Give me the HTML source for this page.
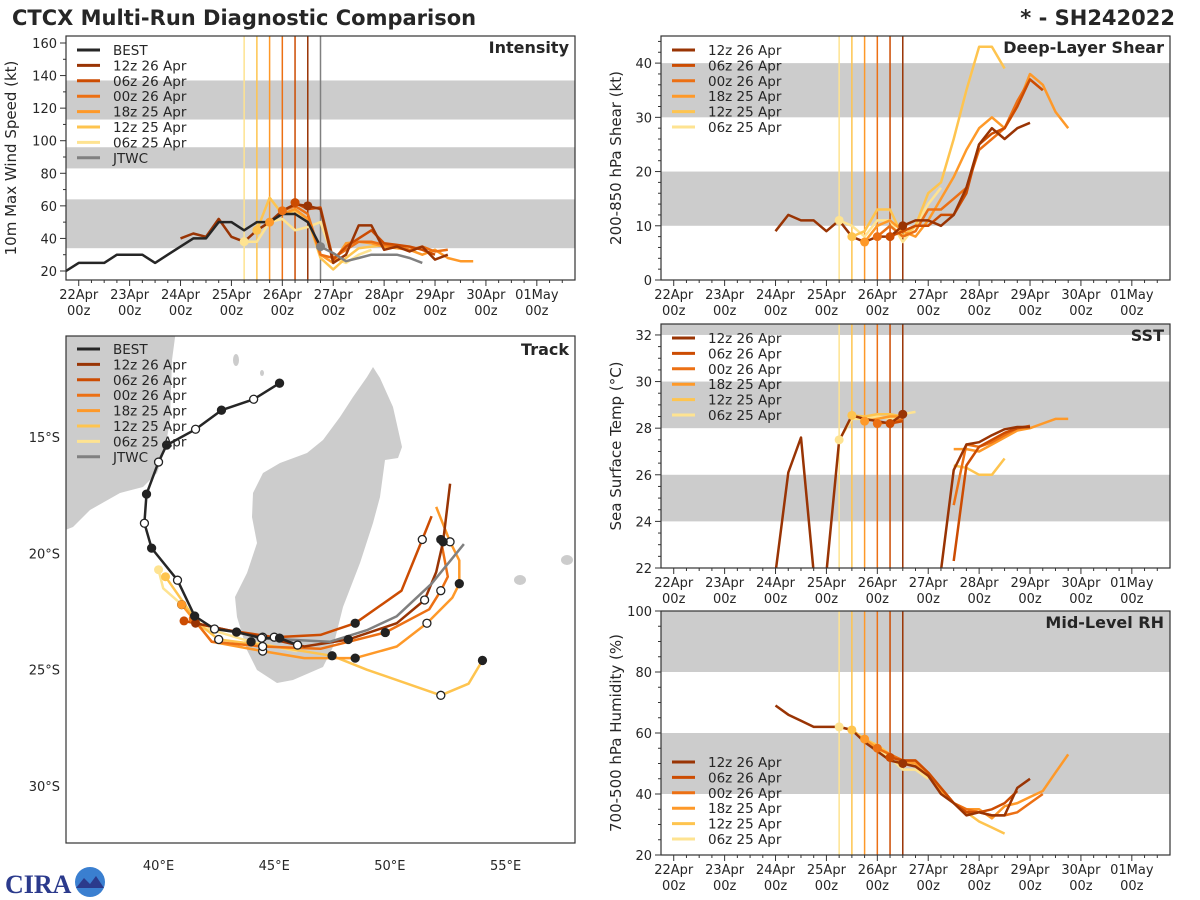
<!DOCTYPE html>
<html><head><meta charset="utf-8">
<style>
html,body{margin:0;padding:0;background:#fff;}
svg{display:block;font-family:"DejaVu Sans","Liberation Sans",sans-serif;}
</style></head>
<body>
<svg id="root" width="1200" height="900" viewBox="0 0 1200 900" xmlns="http://www.w3.org/2000/svg">
<text x="12" y="25" font-size="21" font-weight="bold" fill="#262626">CTCX Multi-Run Diagnostic Comparison</text>
<text x="1175" y="25" font-size="21" font-weight="bold" fill="#262626" text-anchor="end">* - SH242022</text>
<g>
<text x="5" y="893" font-size="26" font-weight="bold" fill="#2b3a8c" font-family="Liberation Serif, serif">CIRA</text>
<circle cx="90" cy="882" r="15" fill="#3a7fd0"/>
<path d="M76,888 L84,878 L90,884 L96,876 L104,888 Z" fill="#2b3a8c"/>
</g>
</svg>
<script>
// ---------- data ----------
var runNames = ["06z 25 Apr","12z 25 Apr","18z 25 Apr","00z 26 Apr","06z 26 Apr","12z 26 Apr"];
var runColors = ["#fee391","#fec44f","#fe9929","#ec7014","#cc4c02","#993404"];
var runInitDays = [3.25,3.5,3.75,4.0,4.25,4.5];
var dayLabels = ["22Apr","23Apr","24Apr","25Apr","26Apr","27Apr","28Apr","29Apr","30Apr","01May"];

// intensity (kt), 6-hourly from start day
var intBestStart = -0.25;
var intBest = [20,25,25,25,30,30,30,25,30,35,40,40,50,50,45,50,50,55,55,50,35];
var intJtwcStart = 4.75;
var intJtwc = [35,31,26,28,30,30,30,28,25];
var intStarts = [3.25,3.5,3.75,4.0,4.25,2.0];
var int06z25 = [38,38,50,52,45,47,50,28,25,30,33];
var int12z25 = [45,65,55,57,52,28,21,28,34,35,36,35,35];
var int18z25 = [50,55,58,52,30,25,37,38,37,35,34,33,30,33,28,26,26];
var int00z26 = [57,60,55,30,28,33,38,38,36,35,33,35,32,33];
var int06z26 = [62,58,59,27,35,40,45,37,36,35,33,30];
var int12z26 = [40,43,41,52,41,38,45,50,57,61,60,58,25,30,48,48,33,35,32,35,27,30];

// shear (kt)
var shrStarts = [3.25,3.5,3.75,4.0,4.25,2.0];
var shr06z25 = [11,10,8,11,11,7,10,14,17];
var shr12z25 = [8,9,13,13,8,10,16,18,26,35,43,43,39];
var shr18z25 = [7,10,11,9,8,11,15,19,24,28,30,28,32,38,36,31,28];
var shr00z26 = [8,10,8,9,13,13,15,17,24,26,28,33,37,35];
var shr06z26 = [8,9,10,10,12,12,16,25,27,28,32,37,35];
var shr12z26 = [9,12,11,11,9,11,8,7,8,8,10,11,11,10,12,17,25,28,26,28,29];

// SST (C), null = missing
var sstStarts = [3.25,3.5,3.75,4.0,4.25,2.0];
var sst06z25 = [27.5,28.4,28.4,28.5,28.4,28.6,28.7];
var sst12z25 = [28.55,28.5,28.6,28.6,28.5,null,null,null,26.4,26.3,26.0,26.0,26.7];
var sst18z25 = [28.3,28.4,28.5,28.5,null,null,null,27.1,27.1,27.0,27.3,27.6,27.9,28.0,28.2,28.4,28.4];
var sst00z26 = [28.2,28.25,28.4,null,null,null,24.7,27.3,27.2,27.4,27.7,28.0,28.05];
var sst06z26 = [28.2,28.3,null,null,null,22.3,26.4,27.2,27.5,27.8,28.0,28.1];
var sst12z26 = [21.8,26.1,27.6,21.8,21.8,27.45,28.55,28.4,28.3,28.2,28.6,null,null,21.9,26.2,27.3,27.4,27.7,27.95,28.05,28.05];

// mid-level RH (%)
var rhStarts = [3.25,3.5,3.75,4.0,4.25,2.0];
var rh06z25 = [62,61,58,55,52,48,48,45];
var rh12z25 = [61,58,56,53,50,50,46,41,37,34,31,29,27];
var rh18z25 = [58,55,53,51,50,46,41,37,35,35,32,36,37,39,41,47,53];
var rh00z26 = [55,53,51,51,47,42,37,35,34,33,33,34,37,40];
var rh06z26 = [52,51,51,47,42,37,34,34,35,37,41];
var rh12z26 = [69,66,64,62,62,62,61,57,54,51,50,49,46,40,37,33,34,33,33,42,45];

// tracks [lon, lat]
var trkBest = [[45.23,-12.68],[44.11,-13.37],[42.72,-13.84],[41.6,-14.66],[40.35,-15.34],[40.0,-16.07],[39.48,-17.45],[39.39,-18.7],[39.7,-19.77],[40.82,-21.15],[41.56,-22.69],[42.42,-23.25],[43.37,-23.38],[44.45,-23.64],[45.23,-23.64],[46.01,-23.94]];
var trkJtwc = [[44.2,-23.64],[45.5,-23.7],[47.4,-23.8],[49.0,-23.3],[50.3,-22.7],[51.8,-21.3],[53.2,-19.6]];
var trk06z25 = [[40.0,-20.7],[40.2,-21.5],[41.0,-22.2],[42.0,-23.2],[44.0,-23.8],[46.0,-24.2]];
var trk12z25 = [[40.3,-21.0],[41.7,-23.0],[42.6,-23.7],[45.0,-24.0],[47.5,-24.4],[49.0,-25.0],[52.2,-26.1],[53.4,-25.6],[54.0,-24.6]];
var trk18z25 = [[41.0,-22.2],[42.3,-23.8],[44.5,-24.2],[46.3,-24.5],[48.5,-24.5],[50.3,-24.0],[51.6,-23.0],[52.7,-21.9],[53.0,-21.3],[53.0,-20.3],[52.6,-19.5],[52.0,-18.0]];
var trk00z26 = [[41.5,-22.8],[42.3,-23.8],[44.5,-24.0],[47.0,-24.1],[49.8,-23.4],[51.7,-22.4],[52.2,-21.6],[52.5,-21.0],[52.2,-19.4]];
var trk06z26 = [[41.1,-22.9],[43.0,-23.3],[45.0,-23.6],[47.0,-23.5],[48.5,-23.0],[50.5,-21.6],[51.4,-19.4],[51.8,-18.4]];
var trk12z26 = [[41.6,-23.0],[43.0,-23.3],[44.5,-23.6],[46.3,-24.0],[48.2,-23.7],[50.3,-23.0],[51.5,-22.0],[52.0,-20.8],[52.3,-19.5],[52.6,-17.0]];

// ---------- helpers ----------
var NS = "http://www.w3.org/2000/svg";
var root = document.getElementById("root");
function mk(tag, attrs, parent){
  var e = document.createElementNS(NS, tag);
  for (var k in attrs) e.setAttribute(k, attrs[k]);
  (parent||root).appendChild(e);
  return e;
}
function txt(s, attrs, parent){ var t = mk("text", attrs, parent); t.textContent = s; return t; }

function timePanel(cfg){
  var g = mk("g", {});
  
  
  var X = function(d){ return cfg.x0 + (d - (-0.25)) / 10 * (cfg.x1 - cfg.x0); };
  var Y = function(v){ return cfg.y1 - (v - cfg.ymin) / (cfg.ymax - cfg.ymin) * (cfg.y1 - cfg.y0); };
  var clipId = "clip-" + cfg.name;
  var cp = mk("clipPath", {id: clipId}, g);
  mk("rect", {x: cfg.x0, y: cfg.y0, width: cfg.x1 - cfg.x0, height: cfg.y1 - cfg.y0}, cp);
  var plot = mk("g", {"clip-path": "url(#" + clipId + ")"}, g);
  cfg.bands.forEach(function(b){
    var r = mk("rect", {x: cfg.x0, y: Y(b[1]), width: cfg.x1 - cfg.x0, height: Y(b[0]) - Y(b[1]), fill: "#cccccc"}, plot);
    
    
  });
  runInitDays.forEach(function(d, i){
    var l = mk("line", {x1: X(d), x2: X(d), y1: cfg.y0, y2: cfg.y1, stroke: runColors[i], "stroke-width": 1.5}, plot);
    
    
  });
  if (cfg.jtwcLine){
    var jl = mk("line", {x1: X(4.75), x2: X(4.75), y1: cfg.y0, y2: cfg.y1, stroke: "#808080", "stroke-width": 1.5}, plot);
    
    
  }
  function series(start, vals, color, nm, w){
    var d = "", pen = false;
    vals.forEach(function(v, i){
      if (v === null){ pen = false; return; }
      var px = X(start + i * 0.25), py = Y(v);
      d += (pen ? "L" : "M") + px.toFixed(1) + "," + py.toFixed(1);
      pen = true;
    });
    var p = mk("path", {d: d, fill: "none", stroke: color, "stroke-width": w || 2.5, "stroke-linejoin": "round"}, plot);
    
    
    return p;
  }
  cfg.series.forEach(function(vals, i){
    series(cfg.starts[i], vals, runColors[i], 'series-' + runNames[i].replace(/ /g,'-').toLowerCase());
  });
  if (cfg.best) series(intBestStart, cfg.best, "#262626", 'series-best');
  if (cfg.jtwc) series(intJtwcStart, cfg.jtwc, "#808080", 'series-jtwc');
  cfg.series.forEach(function(vals, i){
    var idx = Math.round((runInitDays[i] - cfg.starts[i]) / 0.25);
    var v = vals[idx];
    if (v === null || v === undefined) return;
    var c = mk("circle", {cx: X(runInitDays[i]), cy: Y(v), r: 4.5, fill: runColors[i]}, plot);
    
    
  });
  if (cfg.jtwc){
    var jc = mk("circle", {cx: X(4.75), cy: Y(cfg.jtwc[0]), r: 4.5, fill: "#808080"}, plot);
    
    
  }
  var fr = mk("rect", {x: cfg.x0, y: cfg.y0, width: cfg.x1 - cfg.x0, height: cfg.y1 - cfg.y0, fill: "none", stroke: "#333", "stroke-width": 1.2}, g);
  
  
  for (var h = 1; h <= 39; h++){
    var d = -0.25 + h * 0.25;
    var major = Math.abs(d - Math.round(d)) < 1e-6;
    var xx = X(d);
    mk("line", {x1: xx, x2: xx, y1: cfg.y1, y2: cfg.y1 + (major ? 6 : 3), stroke: "#333", "stroke-width": 1}, g);
    if (major && d <= 9){
      var t1 = txt(dayLabels[Math.round(d)], {x: xx, y: cfg.y1 + 19, "font-size": 13, "text-anchor": "middle", fill: "#262626"}, g);
      
      
      var t2 = txt("00z", {x: xx, y: cfg.y1 + 35, "font-size": 13, "text-anchor": "middle", fill: "#262626"}, g);
      
      
    }
  }
  var kStart = Math.ceil(cfg.ymin / cfg.minor - 1e-6), kEnd = Math.floor(cfg.ymax / cfg.minor + 1e-6);
  for (var k = kStart; k <= kEnd; k++){
    var vr = Math.round(k * cfg.minor * 100) / 100;
    var yy = Y(vr);
    var isMaj = Math.abs(vr / cfg.major - Math.round(vr / cfg.major)) < 1e-6;
    mk("line", {x1: cfg.x0, x2: cfg.x0 - (isMaj ? 6 : 3), y1: yy, y2: yy, stroke: "#333", "stroke-width": 1}, g);
    if (isMaj){
      var yl = txt(String(vr), {x: cfg.x0 - 9, y: yy + 5, "font-size": 13, "text-anchor": "end", fill: "#262626"}, g);
      
      
    }
  }
  var yt = txt(cfg.ytitle, {x: 0, y: 0, "font-size": 15, "text-anchor": "middle", fill: "#262626", transform: "translate(" + cfg.ytx + "," + ((cfg.y0 + cfg.y1) / 2) + ") rotate(-90)"}, g);
  
  
  var pt = txt(cfg.title, {x: cfg.x1 - 6, y: cfg.y0 + 17, "font-size": 16, "font-weight": "bold", "text-anchor": "end", fill: "#262626"}, g);
  
  
  legend(g, cfg.x0, cfg.legY, cfg.legBest);
}

function legend(g, x0, y, withBest){
  var items = [];
  if (withBest) items.push(["BEST", "#262626"]);
  for (var i = 5; i >= 0; i--) items.push([runNames[i], runColors[i]]);
  if (withBest) items.push(["JTWC", "#808080"]);
  var lg = mk("g", {}, g);
  
  
  items.forEach(function(it, k){
    var yy = y + k * 15.4;
    var ln = mk("line", {x1: x0 + 11, x2: x0 + 34, y1: yy, y2: yy, stroke: it[1], "stroke-width": 3}, lg);
    
    
    var t = txt(it[0], {x: x0 + 47, y: yy + 5, "font-size": 13.5, fill: "#262626"}, lg);
    
    
  });
}

timePanel({name:"intensity", x0:66, x1:575, y0:36, y1:280, ymin:14.47, ymax:164.3, major:20, minor:10,
  bands:[[34,64],[83,96],[113,137]], starts:intStarts,
  series:[int06z25,int12z25,int18z25,int00z26,int06z26,int12z26], best:intBest, jtwc:intJtwc, jtwcLine:true,
  ytitle:"10m Max Wind Speed (kt)", ytx:16, title:"Intensity", legY:50, legBest:true});
timePanel({name:"shear", x0:661, x1:1170, y0:36, y1:280, ymin:0, ymax:45, major:10, minor:2,
  bands:[[10,20],[30,40]], starts:shrStarts,
  series:[shr06z25,shr12z25,shr18z25,shr00z26,shr06z26,shr12z26],
  ytitle:"200-850 hPa Shear (kt)", ytx:621, title:"Deep-Layer Shear", legY:50, legBest:false});
timePanel({name:"sst", x0:661, x1:1170, y0:324, y1:568, ymin:22, ymax:32.47, major:2, minor:0.5,
  bands:[[24,26],[28,30],[32,34]], starts:sstStarts,
  series:[sst06z25,sst12z25,sst18z25,sst00z26,sst06z26,sst12z26],
  ytitle:"Sea Surface Temp (°C)", ytx:621, title:"SST", legY:338, legBest:false});
timePanel({name:"rh", x0:661, x1:1170, y0:611, y1:855, ymin:20, ymax:100, major:20, minor:5,
  bands:[[40,60],[80,100]], starts:rhStarts,
  series:[rh06z25,rh12z25,rh18z25,rh00z26,rh06z26,rh12z26],
  ytitle:"700-500 hPa Humidity (%)", ytx:621, title:"Mid-Level RH", legY:762, legBest:false});

// ---------- track panel ----------
(function(){
  var x0 = 66, x1 = 575, y0 = 336, y1 = 843;
  var lonMin = 36, lonMax = 58, latTop = -10.65, latBot = -32.45;
  var LX = function(lon){ return x0 + (lon - lonMin) / (lonMax - lonMin) * (x1 - x0); };
  var LY = function(lat){ return y0 + (latTop - lat) / (latTop - latBot) * (y1 - y0); };
  var g = mk("g", {});
  
  
  var cp = mk("clipPath", {id: "clip-track"}, g);
  mk("rect", {x: x0, y: y0, width: x1 - x0, height: y1 - y0}, cp);
  var plot = mk("g", {"clip-path": "url(#clip-track)"}, g);
  var mad = mk("polygon", {fill: "#cccccc", points: "373,367 380,378 393,407 402,447 398,458 385,460 380,497 373,523 360,563 343,607 333,647 323,667 293,680 277,683 257,670 247,650 237,617 235,597 247,573 257,543 252,517 253,493 263,473 280,463 307,453 323,440 340,417 353,397 367,377"}, plot);
  
  
  var afr = mk("polygon", {fill: "#cccccc", points: "60,330 176,330 172,360 170,420 165,450 157,473 143,487 120,493 90,510 73,527 60,532"}, plot);
  
  
  [[236,360,3,6],[262,373,2,3],[567,560,6,5],[520,580,6,5]].forEach(function(c){
    var e = mk("ellipse", {cx: c[0], cy: c[1], rx: c[2], ry: c[3], fill: "#cccccc"}, plot);
    
    
  });
  function path(pts, color, nm){
    var d = pts.map(function(p, i){ return (i ? "L" : "M") + LX(p[0]).toFixed(1) + "," + LY(p[1]).toFixed(1); }).join("");
    var p = mk("path", {d: d, fill: "none", stroke: color, "stroke-width": 2.5, "stroke-linejoin": "round"}, plot);
    
    
  }
  function marker(pt, filled){
    var c = mk("circle", {cx: LX(pt[0]), cy: LY(pt[1]), r: 4, fill: filled ? "#222" : "#fff", stroke: "#222", "stroke-width": 1.3}, plot);
    
    
  }
  var trks = [trk06z25, trk12z25, trk18z25, trk00z26, trk06z26, trk12z26];
  trks.forEach(function(t, i){ path(t, runColors[i], 'track-' + runNames[i].replace(/ /g,'-').toLowerCase()); });
  path(trkJtwc, "#808080", 'track-jtwc');
  path(trkBest, "#262626", 'track-best');
  trks.forEach(function(t, i){
    var s = mk("circle", {cx: LX(t[0][0]), cy: LY(t[0][1]), r: 4.5, fill: runColors[i]}, plot);
    
    
    for (var k = 2; k < t.length; k += 2) marker(t[k], (k / 2) % 2 === 0);
  });
  trkBest.forEach(function(p, k){ marker(p, k % 2 === 0); });
  var fr = mk("rect", {x: x0, y: y0, width: x1 - x0, height: y1 - y0, fill: "none", stroke: "#333", "stroke-width": 1.2}, g);
  
  
  [40,45,50,55].forEach(function(lon){
    var t = txt(lon + "°E", {x: LX(lon), y: 870, "font-size": 13, "text-anchor": "middle", fill: "#262626"}, g);
    
    
  });
  [15,20,25,30].forEach(function(lat){
    var t = txt(lat + "°S", {x: 60, y: LY(-lat) + 5, "font-size": 13, "text-anchor": "end", fill: "#262626"}, g);
    
    
  });
  var pt = txt("Track", {x: x1 - 6, y: y0 + 19, "font-size": 16, "font-weight": "bold", "text-anchor": "end", fill: "#262626"}, g);
  
  
  legend(g, x0, 349, true);
})();
</script>
</body></html>
